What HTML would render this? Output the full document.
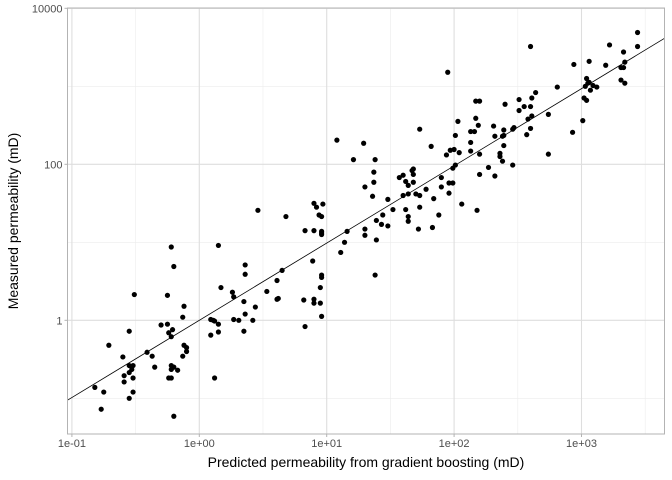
<!DOCTYPE html>
<html><head><meta charset="utf-8"><style>
html,body{margin:0;padding:0;background:#fff;}
svg{display:block;font-family:"Liberation Sans",Arial,sans-serif;}
</style></head><body>
<svg id="chart" width="672" height="480" viewBox="0 0 672 480">
<rect width="672" height="480" fill="#fff"/>
<g id="grid"></g>
<g id="line"></g>
<g id="pts"></g>
<g id="axes"></g>
<text x="366" y="467" text-anchor="middle" font-size="14" fill="#000">Predicted permeability from gradient boosting (mD)</text>
<text transform="translate(18,221) rotate(-90)" text-anchor="middle" font-size="14" fill="#000">Measured permeability (mD)</text>
</svg>
<script>
// log10 of predicted permeability (x) and measured permeability (y)
const predictedLog10 = [-0.22,0.15,-0.20,0.36,0.36,-0.51,-0.25,0.17,0.26,0.27,0.35,0.44,-0.12,-0.13,0.36,0.09,0.11,0.12,0.15,0.27,0.31,0.42,-0.30,-0.25,-0.21,-0.24,-0.22,-0.55,0.09,0.15,0.35,-0.71,-0.12,-0.10,-0.10,-0.13,-0.41,-0.37,-0.60,-0.35,-0.55,-0.52,-0.53,-0.55,-0.22,-0.20,-0.22,-0.17,-0.59,-0.52,-0.59,-0.24,-0.22,0.12,-0.82,-0.75,-0.52,-0.55,-0.77,-0.20,
1.08,1.29,1.21,1.38,1.37,1.37,1.30,1.36,0.46,0.68,0.90,0.92,0.97,0.94,0.96,1.39,0.83,0.90,0.96,0.96,0.96,1.16,1.30,1.30,1.39,1.14,1.11,0.89,0.65,0.61,0.96,0.96,0.95,1.38,0.53,0.61,0.62,0.82,0.90,0.90,0.95,0.96,0.83,
3.44,3.22,3.44,2.60,3.33,3.06,2.94,3.19,3.34,3.31,3.33,1.95,3.04,3.31,3.34,3.05,3.06,3.03,3.09,3.12,3.07,2.81,2.64,2.51,2.61,3.02,3.04,2.17,2.20,2.40,2.55,2.60,2.51,2.74,2.61,2.58,2.17,3.01,2.03,2.19,2.31,1.73,2.47,2.46,2.60,2.13,2.16,2.39,2.93,2.01,2.32,2.38,2.39,2.57,2.13,1.82,2.39,1.97,2.00,2.04,2.13,1.94,2.20,2.36,2.36,2.38,2.74,2.01,1.99,2.27,2.46,1.67,1.68,1.68,1.57,1.60,1.90,2.20,2.32,1.62,1.64,1.68,1.96,1.99,1.90,1.78,1.60,1.64,1.70,1.73,1.96,1.48,1.84,1.52,1.62,1.73,2.06,2.18,1.44,1.64,1.64,1.88,1.43,1.48,1.72,1.83];
const measuredLog10 = [0.94,0.96,0.69,0.71,0.59,0.33,0.32,0.42,0.36,0.30,0.24,0.17,0.18,0.04,0.08,0.01,0.00,-0.01,-0.05,0.01,0.00,0.00,-0.06,-0.05,-0.12,-0.16,-0.21,-0.14,-0.19,-0.15,-0.14,-0.32,-0.32,-0.35,-0.40,-0.46,-0.41,-0.46,-0.47,-0.60,-0.58,-0.58,-0.63,-0.67,-0.58,-0.60,-0.63,-0.64,-0.71,-0.74,-0.79,-0.74,-0.74,-0.74,-0.86,-0.92,-0.92,-1.00,-1.14,-1.23,
2.31,2.27,2.06,2.06,1.90,1.77,1.71,1.59,1.41,1.33,1.50,1.45,1.49,1.35,1.33,1.28,1.15,1.15,1.14,1.12,1.10,1.14,1.17,1.09,1.03,1.00,0.87,0.76,0.64,0.51,0.58,0.55,0.42,0.58,0.37,0.27,0.28,0.26,0.27,0.22,0.22,0.05,-0.08,
3.69,3.53,3.51,3.51,3.44,3.32,3.28,3.27,3.31,3.24,3.24,3.18,3.10,3.08,3.04,3.04,3.05,3.00,3.01,2.99,2.95,2.99,2.92,2.83,2.85,2.85,2.82,2.81,2.81,2.77,2.74,2.74,2.69,2.64,2.62,2.58,2.59,2.56,2.55,2.50,2.49,2.45,2.47,2.45,2.46,2.42,2.42,2.44,2.41,2.37,2.36,2.36,2.37,2.38,2.28,2.23,2.24,2.18,2.19,2.15,2.17,2.12,2.13,2.14,2.10,2.04,2.13,1.99,1.95,1.96,1.99,1.92,1.94,1.87,1.83,1.86,1.83,1.87,1.85,1.78,1.73,1.77,1.76,1.76,1.71,1.68,1.60,1.62,1.62,1.60,1.63,1.55,1.56,1.42,1.42,1.45,1.49,1.41,1.35,1.33,1.27,1.35,1.23,1.21,1.17,1.19];
const xTickLabels = ["1e-01","1e+00","1e+01","1e+02","1e+03"];
const xTickExps = [-1,0,1,2,3];
const yTickLabels = ["1","100","10000"];
const yTickExps = [0,2,4];
const fitSlope = [0.99];
const fitIntercept = [0.0];

const NS="http://www.w3.org/2000/svg";
const L=67.5,R=664.5,T=8,B=434;
function sx(e){return 199.3+127.4*e;}
function sy(e){return 320.3-78*e;}
function mk(tag,attrs,parent){const el=document.createElementNS(NS,tag);for(const k in attrs)el.setAttribute(k,attrs[k]);parent.appendChild(el);return el;}
const grid=document.getElementById('grid'),axes=document.getElementById('axes'),pts=document.getElementById('pts'),lg=document.getElementById('line');
mk('rect',{x:L,y:T,width:R-L,height:B-T,fill:'#fff'},grid);
for(let e=-1.5;e<=3.5;e+=1){const x=sx(e);if(x<L||x>R)continue;
 const g=mk('line',{x1:x,x2:x,y1:T,y2:B,stroke:'#ececec','stroke-width':0.6},grid);
 
 }
for(let e=-1;e<=4;e+=1){const y=sy(e);if(y<T-1||y>B)continue;
 const g=mk('line',{x1:L,x2:R,y1:y,y2:y,stroke:'#ececec','stroke-width':0.6},grid);
 
 }
xTickExps.forEach((e,i)=>{const x=sx(e);
 const g=mk('line',{x1:x,x2:x,y1:T,y2:B,stroke:'#dedede','stroke-width':1.1},grid);
 
 
 const t=mk('line',{x1:x,x2:x,y1:B,y2:B+3,stroke:'#b3b3b3','stroke-width':1},axes);
 
 
 const tx=mk('text',{x:x,y:B+13,'text-anchor':'middle','font-size':11,fill:'#4d4d4d'},axes);
 tx.textContent=xTickLabels[i];
 
 });
yTickExps.forEach((e,i)=>{const y=sy(e);
 const g=mk('line',{x1:L,x2:R,y1:y,y2:y,stroke:'#dedede','stroke-width':1.1},grid);
 
 
 const t=mk('line',{x1:L-3,x2:L,y1:y,y2:y,stroke:'#b3b3b3','stroke-width':1},axes);
 
 
 const tx=mk('text',{x:L-5,y:y+4,'text-anchor':'end','font-size':11,fill:'#4d4d4d'},axes);
 tx.textContent=yTickLabels[i];
 
 });
const border=mk('rect',{x:L,y:T,width:R-L,height:B-T,fill:'none',stroke:'#b3b3b3','stroke-width':1},axes);


const x0=(L-199.3)/127.4,x1=(R-199.3)/127.4;
const fl=mk('line',{x1:sx(x0),y1:sy(fitSlope[0]*x0+fitIntercept[0]),x2:sx(x1),y2:sy(fitSlope[0]*x1+fitIntercept[0]),stroke:'#000','stroke-width':0.8},lg);


predictedLog10.forEach((px,i)=>{
 const c=mk('circle',{cx:sx(px),cy:sy(measuredLog10[i]),r:2.6,fill:'#000'},pts);
 
 });
</script>
</body></html>
